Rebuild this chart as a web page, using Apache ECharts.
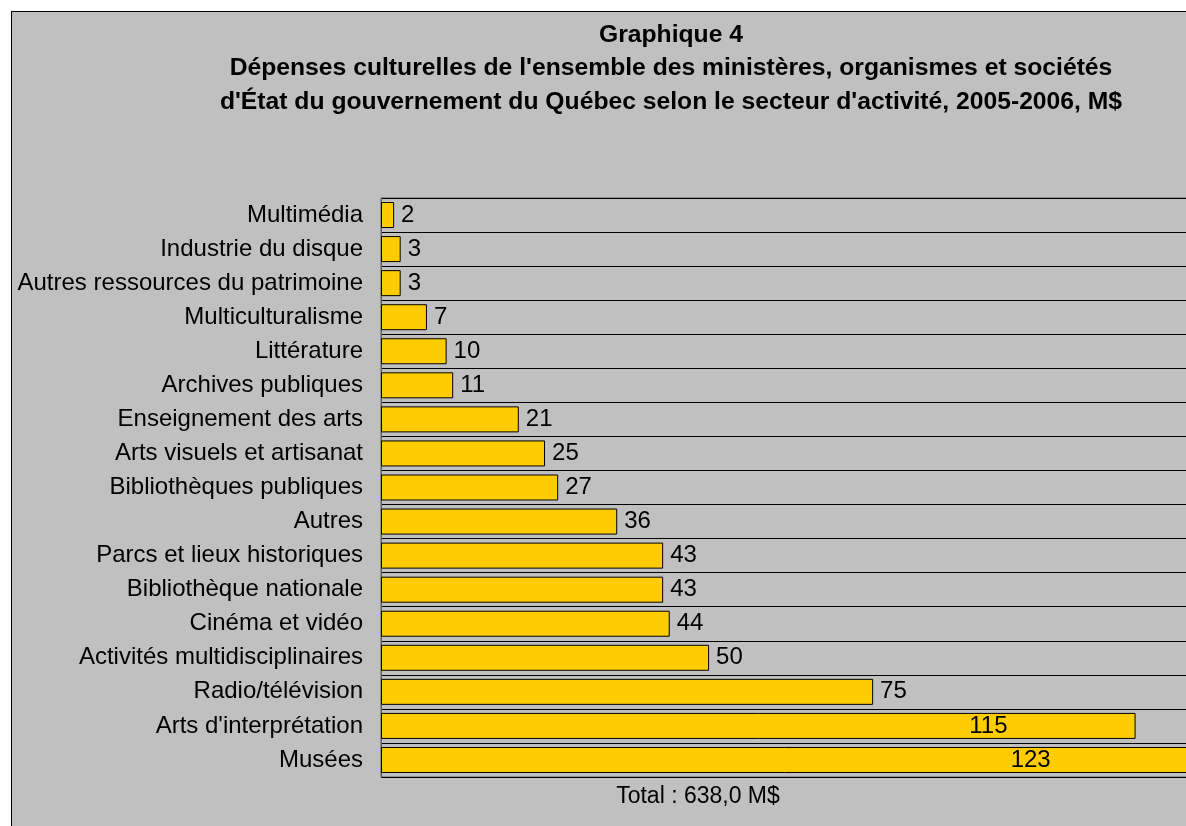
<!DOCTYPE html>
<html>
<head>
<meta charset="utf-8">
<script src="https://cdn.jsdelivr.net/npm/echarts@6/dist/echarts.min.js"></script>
<style>
    html, body { margin: 0; padding: 0; background: #ffffff; }
    #frame {
        position: absolute; left: 11px; top: 11px; width: 1200px; height: 840px;
        background: #c0c0c0; border-left: 1px solid #000; border-top: 1px solid #000;
    }
    #chart { position: absolute; left: 0; top: 0; width: 1186px; height: 826px; }
</style>
</head>
<body>
<div id="frame"></div>
<div id="chart"></div>
<script>
// secteurs d'activité, de haut en bas
const categories = [
    'Multimédia', 'Industrie du disque', 'Autres ressources du patrimoine', 'Multiculturalisme',
    'Littérature', 'Archives publiques', 'Enseignement des arts', 'Arts visuels et artisanat',
    'Bibliothèques publiques', 'Autres', 'Parcs et lieux historiques', 'Bibliothèque nationale',
    'Cinéma et vidéo', 'Activités multidisciplinaires', 'Radio/télévision', "Arts d'interprétation",
    'Musées',
]
// dépenses en M$
const values = [2, 3, 3, 7, 10, 11, 21, 25, 27, 36, 43, 43, 44, 50, 75, 115, 123]
const titleLines = [
    'Graphique 4',
    "Dépenses culturelles de l'ensemble des ministères, organismes et sociétés",
    "d'État du gouvernement du Québec selon le secteur d'activité, 2005-2006, M$",
]
const totalText = 'Total : 638,0 M$'

const font = '"Liberation Sans", Arial, sans-serif'

let seriesData = values.map((v) => {
    // les grandes barres ont leur étiquette à l'intérieur
    if (v > 100) {
        return { value: v, label: { position: ['80.5%', '50%'], align: 'center', verticalAlign: 'middle' } }
    }
    return v
})

let option = {
    backgroundColor: 'transparent',
    animation: false,
    title: [
        {
            text: titleLines.join('\n'),
            left: 671,
            top: 18,
            padding: 0,
            textAlign: 'center',
            textStyle: { fontFamily: font, fontSize: 24.7, fontWeight: 'bold', color: '#000', lineHeight: 33.5 },
        },
        {
            text: totalText,
            left: 698,
            top: 785,
            padding: 0,
            textAlign: 'center',
            textStyle: { fontFamily: font, fontSize: 23, fontWeight: 'normal', color: '#000' },
        },
    ],
    grid: {
        left: 381,
        top: 198,
        width: 853,
        height: 579,
        outerBoundsMode: 'none',
        show: true,
        backgroundColor: 'transparent',
        borderColor: '#606060',
        borderWidth: 1,
    },
    xAxis: {
        type: 'value',
        min: 0,
        max: 130,
        show: false,
    },
    yAxis: {
        type: 'category',
        inverse: true,
        data: categories,
        axisTick: { show: false },
        axisLine: { show: true, lineStyle: { color: '#606060', width: 1 } },
        splitLine: { show: true, lineStyle: { color: '#000', width: 1 } },
        axisLabel: { fontFamily: font, fontSize: 24, color: '#000', margin: 18 },
    },
    series: [
        {
            type: 'bar',
            data: seriesData,
            barWidth: 26,
            itemStyle: { color: '#ffcc00', borderColor: '#000', borderWidth: 1 },
            label: {
                show: true,
                position: 'right',
                distance: 7,
                fontFamily: font,
                fontSize: 24,
                color: '#000',
            },
        },
    ],
}

let myChart = echarts.init(document.getElementById('chart'))
myChart.setOption(option)
</script>
</body>
</html>
